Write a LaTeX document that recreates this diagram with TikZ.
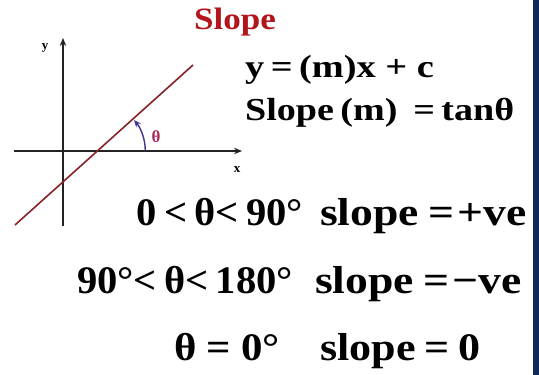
\documentclass[tikz,border=0pt]{standalone}
\usepackage{fontspec}
\setmainfont{Liberation Serif}
\usetikzlibrary{arrows.meta}
\definecolor{titlered}{RGB}{178,22,28}
\definecolor{linered}{RGB}{135,35,40}
\definecolor{arcblue}{RGB}{60,55,140}
\definecolor{thetacol}{RGB}{170,40,90}
\definecolor{navy}{RGB}{16,40,90}
\definecolor{axisgray}{RGB}{35,35,35}
\tikzset{
  txt/.style={inner sep=0pt, font=\bfseries},
  big/.style={txt, font=\bfseries\fontsize{39}{39}\selectfont},
  mid/.style={txt, font=\bfseries\fontsize{32}{32}\selectfont},
  axis/.style={draw=axisgray, line width=1.7pt, -{Stealth[length=8pt,width=6.5pt]}},
}
\begin{document}
\begin{tikzpicture}[x=1pt,y=-1pt]
\useasboundingbox (0,0) rectangle (539,375);
\fill[white] (0,0) rectangle (539,375);
\fill[navy] (533,0) rectangle (539,375);
% axes
\coordinate (xs) at (14,151);
\coordinate (xe) at (242,151);
\coordinate (ys) at (63,226);
\coordinate (ye) at (63,38);
\draw[axis] (xs) -- (xe);
\draw[axis] (ys) -- (ye);
\node[txt, font=\bfseries\fontsize{13}{13}\selectfont] (ylab) at (45,48) {y};
\node[txt, font=\bfseries\fontsize{13}{13}\selectfont] (xlab) at (237,170) {x};
% line
\coordinate (l1) at (15,225);
\coordinate (l2) at (193,65);
\draw[linered, line width=1.6pt] (l1) -- (l2);
% angle arc
\coordinate (o) at (97.3,151);
\draw[arcblue, line width=1.4pt, -{Stealth[length=7pt,width=6pt]}] ([shift={(0:48)}]o) arc[start angle=0, end angle=-40, radius=48];
\node[txt, text=thetacol, font=\bfseries\fontsize{17}{17}\selectfont] (th) at (156,137) {θ};
% texts
\node[txt, text=titlered, anchor=base west, font=\bfseries\fontsize{31}{31}\selectfont] (title) at (194,29) {\scalebox{1.13}[1]{Slope}};
\node[mid, anchor=base west] (eq1) at (245,77) {\scalebox{1.2}[1]{y\,=\,(m)x + c}};
\node[mid, anchor=base west] (eq2) at (245,120) {\scalebox{1.19}[1]{Slope\,(m) \,=\,tanθ}};
\node[big, anchor=base east] (c1) at (303,225) {\scalebox{1.04}[1]{0\hspace{7pt}<\hspace{7pt}θ<\hspace{7pt}90°}};
\node[big, anchor=base west] (s1) at (320,225) {\scalebox{1.17}[1]{slope\hspace{8pt}=\hspace{3pt}+ve}};
\node[big, anchor=base east] (c2) at (293,293) {\scalebox{1.04}[1]{90°<\hspace{7pt}θ<\hspace{7pt}180°}};
\node[big, anchor=base west] (s2) at (315,293) {\scalebox{1.17}[1]{slope\hspace{8pt}=\hspace{3pt}−ve}};
\node[big, anchor=base east] (c3) at (280,360) {\scalebox{1.1}[1]{θ\hspace{9pt}=\hspace{9pt}0°}};
\node[big, anchor=base west] (s3) at (320,360) {\scalebox{1.13}[1]{slope\hspace{8pt}=\hspace{8pt}0}};
\end{tikzpicture}
\end{document}
